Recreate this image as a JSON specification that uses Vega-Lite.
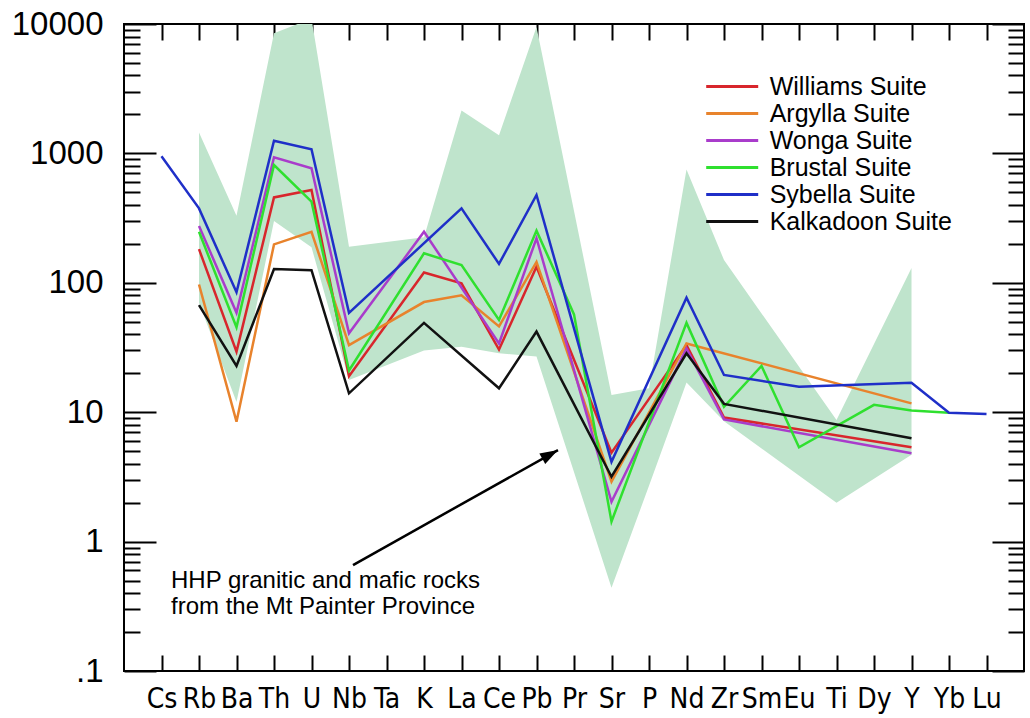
{
  "$schema": "https://vega.github.io/schema/vega-lite/v6.json",
  "width": 900,
  "height": 647,
  "autosize": {"type": "none"},
  "padding": {"left": 124, "top": 24, "right": 6, "bottom": 47},
  "background": "white",
  "config": {
    "view": {"stroke": "black", "strokeWidth": 2},
    "axis": {"domain": false, "grid": false, "tickColor": "black", "tickWidth": 2, "title": null, "labelColor": "black"}
  },
  "datasets": {
    "envelope": [
      {"el": "Rb", "lo": 70, "hi": 1450},
      {"el": "Ba", "lo": 12, "hi": 330},
      {"el": "Th", "lo": 300, "hi": 8500},
      {"el": "U", "lo": 188, "hi": 11000},
      {"el": "Nb", "lo": 17.7, "hi": 190},
      {"el": "K", "lo": 30, "hi": 225},
      {"el": "La", "lo": 32, "hi": 2150},
      {"el": "Ce", "lo": 28.5, "hi": 1380},
      {"el": "Pb", "lo": 27, "hi": 9500},
      {"el": "Sr", "lo": 0.44, "hi": 13.6},
      {"el": "P", "lo": 2.7, "hi": 15.3},
      {"el": "Nd", "lo": 17, "hi": 750},
      {"el": "Zr", "lo": 8.5, "hi": 150},
      {"el": "Ti", "lo": 2, "hi": 8.7},
      {"el": "Y", "lo": 4.7, "hi": 130}
    ],
    "suites": [
      {"s": "Williams Suite", "el": "Rb", "v": 182},
      {"s": "Williams Suite", "el": "Ba", "v": 29.4},
      {"s": "Williams Suite", "el": "Th", "v": 457},
      {"s": "Williams Suite", "el": "U", "v": 521},
      {"s": "Williams Suite", "el": "Nb", "v": 19},
      {"s": "Williams Suite", "el": "K", "v": 120},
      {"s": "Williams Suite", "el": "La", "v": 99},
      {"s": "Williams Suite", "el": "Ce", "v": 30.5},
      {"s": "Williams Suite", "el": "Pb", "v": 133},
      {"s": "Williams Suite", "el": "Sr", "v": 4.86},
      {"s": "Williams Suite", "el": "Nd", "v": 33},
      {"s": "Williams Suite", "el": "Zr", "v": 9.1},
      {"s": "Williams Suite", "el": "Y", "v": 5.35},

      {"s": "Argylla Suite", "el": "Rb", "v": 97},
      {"s": "Argylla Suite", "el": "Ba", "v": 8.45},
      {"s": "Argylla Suite", "el": "Th", "v": 198},
      {"s": "Argylla Suite", "el": "U", "v": 248},
      {"s": "Argylla Suite", "el": "Nb", "v": 33},
      {"s": "Argylla Suite", "el": "K", "v": 71},
      {"s": "Argylla Suite", "el": "La", "v": 80},
      {"s": "Argylla Suite", "el": "Ce", "v": 46},
      {"s": "Argylla Suite", "el": "Pb", "v": 145},
      {"s": "Argylla Suite", "el": "Sr", "v": 2.9},
      {"s": "Argylla Suite", "el": "Nd", "v": 34},
      {"s": "Argylla Suite", "el": "Y", "v": 11.7},

      {"s": "Wonga Suite", "el": "Rb", "v": 275},
      {"s": "Wonga Suite", "el": "Ba", "v": 58.7},
      {"s": "Wonga Suite", "el": "Th", "v": 933},
      {"s": "Wonga Suite", "el": "U", "v": 767},
      {"s": "Wonga Suite", "el": "Nb", "v": 40.7},
      {"s": "Wonga Suite", "el": "K", "v": 248},
      {"s": "Wonga Suite", "el": "Ce", "v": 34},
      {"s": "Wonga Suite", "el": "Pb", "v": 221},
      {"s": "Wonga Suite", "el": "Sr", "v": 2.03},
      {"s": "Wonga Suite", "el": "Nd", "v": 31},
      {"s": "Wonga Suite", "el": "Zr", "v": 8.8},
      {"s": "Wonga Suite", "el": "Y", "v": 4.81},

      {"s": "Brustal Suite", "el": "Rb", "v": 248},
      {"s": "Brustal Suite", "el": "Ba", "v": 45.3},
      {"s": "Brustal Suite", "el": "Th", "v": 813},
      {"s": "Brustal Suite", "el": "U", "v": 424},
      {"s": "Brustal Suite", "el": "Nb", "v": 21},
      {"s": "Brustal Suite", "el": "K", "v": 169},
      {"s": "Brustal Suite", "el": "La", "v": 137},
      {"s": "Brustal Suite", "el": "Ce", "v": 51.6},
      {"s": "Brustal Suite", "el": "Pb", "v": 253},
      {"s": "Brustal Suite", "el": "Pr", "v": 57},
      {"s": "Brustal Suite", "el": "Sr", "v": 1.43},
      {"s": "Brustal Suite", "el": "Nd", "v": 49},
      {"s": "Brustal Suite", "el": "Zr", "v": 11},
      {"s": "Brustal Suite", "el": "Sm", "v": 22.8},
      {"s": "Brustal Suite", "el": "Eu", "v": 5.35},
      {"s": "Brustal Suite", "el": "Dy", "v": 11.4},
      {"s": "Brustal Suite", "el": "Y", "v": 10.3},
      {"s": "Brustal Suite", "el": "Yb", "v": 9.9},

      {"s": "Sybella Suite", "el": "Cs", "v": 950},
      {"s": "Sybella Suite", "el": "Rb", "v": 376},
      {"s": "Sybella Suite", "el": "Ba", "v": 84.5},
      {"s": "Sybella Suite", "el": "Th", "v": 1253},
      {"s": "Sybella Suite", "el": "U", "v": 1076},
      {"s": "Sybella Suite", "el": "Nb", "v": 58.6},
      {"s": "Sybella Suite", "el": "La", "v": 376},
      {"s": "Sybella Suite", "el": "Ce", "v": 140},
      {"s": "Sybella Suite", "el": "Pb", "v": 477},
      {"s": "Sybella Suite", "el": "Sr", "v": 4.14},
      {"s": "Sybella Suite", "el": "Nd", "v": 76.7},
      {"s": "Sybella Suite", "el": "Zr", "v": 19.4},
      {"s": "Sybella Suite", "el": "Eu", "v": 15.7},
      {"s": "Sybella Suite", "el": "Y", "v": 16.9},
      {"s": "Sybella Suite", "el": "Yb", "v": 9.9},
      {"s": "Sybella Suite", "el": "Lu", "v": 9.7},

      {"s": "Kalkadoon Suite", "el": "Rb", "v": 67.3},
      {"s": "Kalkadoon Suite", "el": "Ba", "v": 22.8},
      {"s": "Kalkadoon Suite", "el": "Th", "v": 128},
      {"s": "Kalkadoon Suite", "el": "U", "v": 125},
      {"s": "Kalkadoon Suite", "el": "Nb", "v": 14},
      {"s": "Kalkadoon Suite", "el": "K", "v": 49},
      {"s": "Kalkadoon Suite", "el": "Ce", "v": 15.3},
      {"s": "Kalkadoon Suite", "el": "Pb", "v": 42},
      {"s": "Kalkadoon Suite", "el": "Sr", "v": 3.17},
      {"s": "Kalkadoon Suite", "el": "Nd", "v": 28.5},
      {"s": "Kalkadoon Suite", "el": "Zr", "v": 11.6},
      {"s": "Kalkadoon Suite", "el": "Y", "v": 6.28}
    ],
    "note": [
      {"pos": 0.253, "v": 0.438, "label": "HHP granitic and mafic rocks|from the Mt Painter Province"}
    ],
    "arrow": [
      {"pos": 5.107, "v": 0.659, "pos2": 10.573, "v2": 5.1}
    ]
  },
  "resolve": {"scale": {"x": "independent"}, "axis": {"x": "independent", "y": "independent"}},
  "layer": [
    {
      "data": {"name": "envelope"},
      "mark": {"type": "area", "color": "#bfe4cc", "opacity": 1, "clip": true},
      "encoding": {
        "x": {
          "field": "el", "type": "ordinal",
          "sort": ["Cs","Rb","Ba","Th","U","Nb","Ta","K","La","Ce","Pb","Pr","Sr","P","Nd","Zr","Sm","Eu","Ti","Dy","Y","Yb","Lu"],
          "scale": {"type": "point", "padding": 1, "domain": ["Cs","Rb","Ba","Th","U","Nb","Ta","K","La","Ce","Pb","Pr","Sr","P","Nd","Zr","Sm","Eu","Ti","Dy","Y","Yb","Lu"]},
          "axis": {"orient": "bottom", "tickSize": -16, "labelAngle": 0, "labelFont": "DejaVu Sans Condensed, Liberation Sans Narrow, sans-serif", "labelFontSize": 28, "labelBaseline": "alphabetic", "labelPadding": 52, "labelOverlap": false}
        },
        "y": {
          "field": "lo", "type": "quantitative",
          "scale": {"type": "log", "domain": [0.1, 10000], "nice": false},
          "axis": {"orient": "left", "values": [0.1, 1, 10, 100, 1000, 10000], "tickSize": -32, "labelFont": "Liberation Sans", "labelFontSize": 33, "labelPadding": 53, "labelBaseline": "middle", "labelExpr": "datum.value < 1 ? '.1' : format(datum.value, 'd')"}
        },
        "y2": {"field": "hi"}
      }
    },
    {
      "data": {"name": "suites"},
      "mark": {"type": "line", "strokeWidth": 2.5, "clip": true},
      "encoding": {
        "x": {
          "field": "el", "type": "ordinal",
          "sort": ["Cs","Rb","Ba","Th","U","Nb","Ta","K","La","Ce","Pb","Pr","Sr","P","Nd","Zr","Sm","Eu","Ti","Dy","Y","Yb","Lu"],
          "scale": {"type": "point", "padding": 1, "domain": ["Cs","Rb","Ba","Th","U","Nb","Ta","K","La","Ce","Pb","Pr","Sr","P","Nd","Zr","Sm","Eu","Ti","Dy","Y","Yb","Lu"]},
          "axis": {"orient": "top", "tickSize": -16, "labels": false}
        },
        "y": {
          "field": "v", "type": "quantitative",
          "scale": {"type": "log", "domain": [0.1, 10000], "nice": false},
          "axis": {"orient": "left", "tickSize": -16, "labels": false,
            "values": [0.2,0.3,0.4,0.5,0.6,0.7,0.8,0.9,2,3,4,5,6,7,8,9,20,30,40,50,60,70,80,90,200,300,400,500,600,700,800,900,2000,3000,4000,5000,6000,7000,8000,9000]}
        },
        "color": {
          "field": "s", "type": "nominal",
          "scale": {
            "domain": ["Williams Suite", "Argylla Suite", "Wonga Suite", "Brustal Suite", "Sybella Suite", "Kalkadoon Suite"],
            "range": ["#d8262c", "#e8832c", "#a93ccb", "#2fe02f", "#1f2fc8", "#111111"]
          },
          "legend": {
            "title": null, "orient": "none", "legendX": 595.7, "legendY": 50,
            "padding": 0, "rowPadding": 1,
            "symbolType": "M-5.2,0H5.2", "symbolSize": 100, "symbolStrokeWidth": 3,
            "labelOffset": 25, "labelFont": "Liberation Sans", "labelFontSize": 25, "labelColor": "black",
            "labelLimit": 400
          }
        }
      }
    },
    {
      "data": {"name": "arrow"},
      "mark": {"type": "rule", "color": "black", "strokeWidth": 2.5},
      "encoding": {
        "x": {"field": "pos", "type": "quantitative", "scale": {"domain": [-1, 23], "nice": false, "zero": false}, "axis": null},
        "x2": {"field": "pos2"},
        "y": {
          "field": "v", "type": "quantitative",
          "scale": {"type": "log", "domain": [0.1, 10000], "nice": false},
          "axis": {"orient": "right", "values": [0.1, 1, 10, 100, 1000, 10000], "tickSize": -32, "labels": false}
        },
        "y2": {"field": "v2"}
      }
    },
    {
      "data": {"name": "arrow"},
      "mark": {"type": "point", "shape": "M0,0L0.6,1.8L-0.6,1.8Z", "size": 400, "angle": 60.7, "filled": true, "color": "black", "opacity": 1},
      "encoding": {
        "x": {"field": "pos2", "type": "quantitative", "scale": {"domain": [-1, 23], "nice": false, "zero": false}, "axis": null},
        "y": {"field": "v2", "type": "quantitative", "scale": {"type": "log", "domain": [0.1, 10000], "nice": false}, "axis": null}
      }
    },
    {
      "data": {"name": "note"},
      "mark": {"type": "text", "align": "left", "baseline": "alphabetic", "font": "Liberation Sans", "fontSize": 24, "lineBreak": "|", "lineHeight": 26, "color": "black"},
      "encoding": {
        "x": {"field": "pos", "type": "quantitative", "scale": {"domain": [-1, 23], "nice": false, "zero": false}, "axis": null},
        "y": {
          "field": "v", "type": "quantitative",
          "scale": {"type": "log", "domain": [0.1, 10000], "nice": false},
          "axis": {"orient": "right", "tickSize": -16, "labels": false,
            "values": [0.2,0.3,0.4,0.5,0.6,0.7,0.8,0.9,2,3,4,5,6,7,8,9,20,30,40,50,60,70,80,90,200,300,400,500,600,700,800,900,2000,3000,4000,5000,6000,7000,8000,9000]}
        },
        "text": {"field": "label", "type": "nominal"}
      }
    }
  ]
}
